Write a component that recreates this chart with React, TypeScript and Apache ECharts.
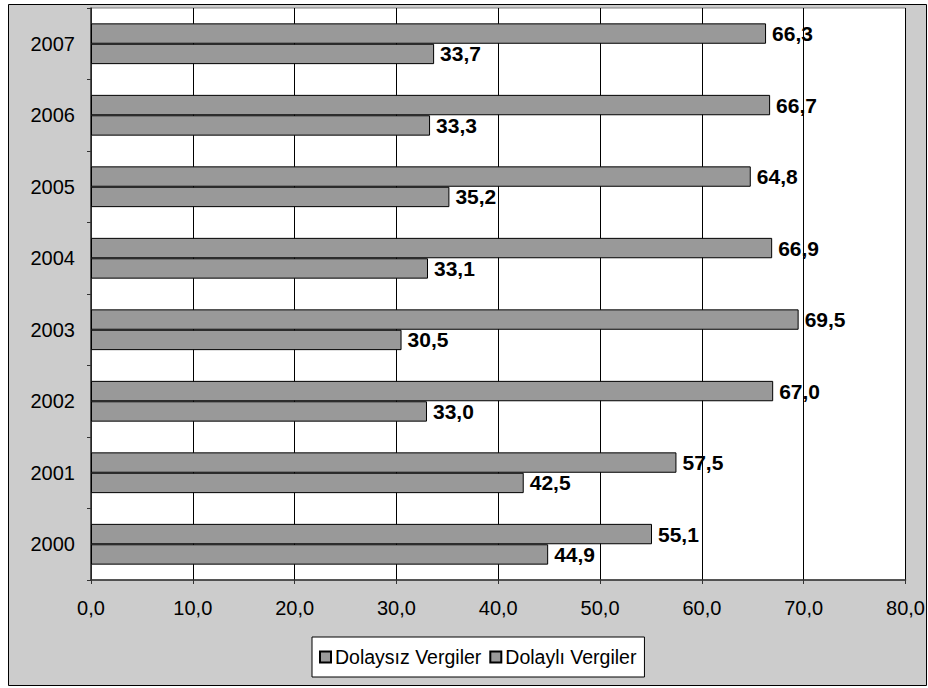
import React, { useEffect, useRef } from "react";
import * as echarts from "echarts";

const years = ["2000", "2001", "2002", "2003", "2004", "2005", "2006", "2007"];
const dolaysiz = [55.1, 57.5, 67.0, 69.5, 66.9, 64.8, 66.7, 66.3];
const dolayli = [44.9, 42.5, 33.0, 30.5, 33.1, 35.2, 33.3, 33.7];
const seriesNames = ["Dolaysız Vergiler", "Dolaylı Vergiler"];

const FONT = "'Liberation Sans', Arial, sans-serif";
const fmt = (v: number) => v.toFixed(1).replace(".", ",");

export default function App() {
  const ref = useRef<HTMLDivElement>(null);

  useEffect(() => {
    document.body.style.margin = "0";
    const chart = echarts.init(ref.current!, null, { renderer: "svg" });

    const barStyle = {
      color: "#999999",
      borderColor: "#000000",
      borderWidth: 1,
    };
    const label = {
      show: true,
      position: "right" as const,
      distance: 6,
      color: "#000",
      fontFamily: FONT,
      fontSize: 21,
      fontWeight: "bold" as const,
      formatter: (p: any) => fmt(p.value),
    };

    chart.setOption({
      animation: false,
      backgroundColor: "#ffffff",
      graphic: [
        {
          type: "rect",
          z: -10,
          silent: true,
          shape: { x: 8.5, y: 4.5, width: 918, height: 681 },
          style: { fill: "#cccccc", stroke: "#000", lineWidth: 1 },
        },
      ],
      grid: {
        left: 91,
        top: 8,
        width: 815,
        height: 572,
        show: true,
        backgroundColor: "#ffffff",
        borderColor: "#808080",
        borderWidth: 1,
      },
      legend: {
        left: 312,
        top: 637,
        padding: [10, 8, 10, 7],
        backgroundColor: "#ffffff",
        borderColor: "#000",
        borderWidth: 1,
        borderRadius: 0,
        icon: "rect",
        itemWidth: 11,
        itemHeight: 11,
        itemGap: 8,
        textStyle: { fontFamily: FONT, fontSize: 19.5, color: "#000", padding: [0, 0, 0, -1] },
        data: seriesNames,
      },
      xAxis: {
        type: "value",
        min: 0,
        max: 80,
        interval: 10,
        axisLine: { show: true, lineStyle: { color: "#333", width: 1.5 } },
        axisTick: { show: true, length: 4, lineStyle: { color: "#333" } },
        splitLine: { show: true, lineStyle: { color: "#000", width: 1 } },
        axisLabel: {
          margin: 18,
          fontFamily: FONT,
          fontSize: 20,
          color: "#000",
          formatter: (v: number) => fmt(v),
        },
      },
      yAxis: {
        type: "category",
        data: years,
        axisLine: { show: true, lineStyle: { color: "#333", width: 1.5 } },
        axisTick: { show: true, length: 4, lineStyle: { color: "#333" } },
        splitLine: { show: false },
        axisLabel: {
          margin: 16,
          fontFamily: FONT,
          fontSize: 20,
          color: "#000",
        },
      },
      series: [
        {
          name: seriesNames[0],
          type: "bar",
          data: dolaysiz,
          barGap: "0%",
          barCategoryGap: "43%",
          itemStyle: barStyle,
          label,
        },
        {
          name: seriesNames[1],
          type: "bar",
          data: dolayli,
          barGap: "0%",
          barCategoryGap: "43%",
          itemStyle: barStyle,
          label,
        },
      ],
    });

    return () => chart.dispose();
  }, []);

  return <div ref={ref} style={{ width: 928, height: 688 }} />;
}
